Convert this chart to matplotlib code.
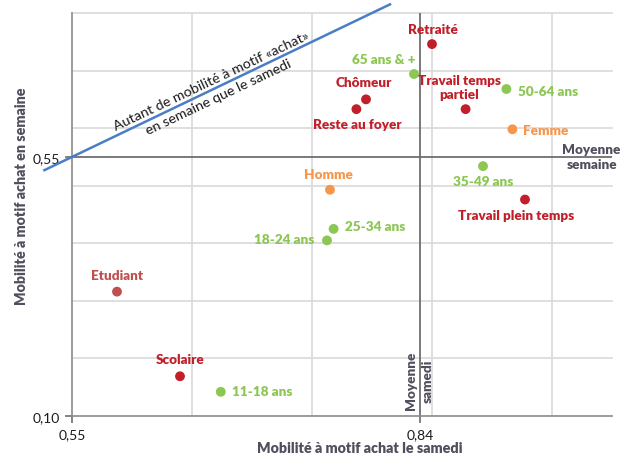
import matplotlib
matplotlib.use("Agg")
import matplotlib.pyplot as plt

plt.rcParams['font.family'] = ['Lato', 'DejaVu Sans']

# Data
labels = ["Retraité", "65 ans & +", "Chômeur", "Reste au foyer", "Travail temps\npartiel",
          "50-64 ans", "Femme", "35-49 ans", "Travail plein temps", "Homme",
          "25-34 ans", "18-24 ans", "Etudiant", "Scolaire", "11-18 ans"]
samedi = [0.850, 0.835, 0.795, 0.787, 0.878, 0.912, 0.917, 0.8925, 0.9275, 0.765,
          0.768, 0.7625, 0.5875, 0.640, 0.674]
semaine = [0.746, 0.694, 0.650, 0.633, 0.633, 0.668, 0.598, 0.534, 0.476, 0.493,
           0.425, 0.405, 0.316, 0.169, 0.142]
groups = ["csp", "age", "csp", "csp", "csp", "age", "sexe", "age", "csp", "sexe",
          "age", "age", "etu", "csp", "age"]
moy_samedi = 0.84
moy_semaine = 0.55
x_ticks = [0.55, 0.84]
y_ticks = [0.10, 0.55]
x_tick_labels = ["0,55", "0,84"]
y_tick_labels = ["0,10", "0,55"]

colors = {"csp": "#C1202B", "age": "#8CC653", "sexe": "#F7964B", "etu": "#C0504F"}
# label offsets (pixels) and alignment
offsets = [(1, 15, 'center'), (1, 15, 'right'), (-2, 17, 'center'), (1, -15, 'center'),
           (-6, 22, 'center'), (12, -2, 'left'), (11, -1, 'left'), (0, -15, 'center'),
           (-9, -15, 'center'), (-2, 16, 'center'), (11, 3, 'left'), (-13, 1, 'right'),
           (0, 17, 'center'), (0, 17, 'center'), (11, 1, 'left')]

fig = plt.figure(figsize=(6.2, 4.56), dpi=100)
ax = fig.add_axes([72/620, 39/456, 540/620, 403/456])
ax.set_xlim(0.55, 1.0)
ax.set_ylim(0.10, 0.80)

grid_c = "#D9D9D9"
for gx in [0.65, 0.75, 0.85, 0.95]:
    ax.axvline(gx, color=grid_c, lw=1.2, zorder=1)
for gy in [0.20, 0.30, 0.40, 0.50, 0.60, 0.70, 0.80]:
    ax.axhline(gy, color=grid_c, lw=1.2, zorder=1, clip_on=False)

ax.axhline(moy_semaine, color="#6E6E6E", lw=1.3, zorder=2)
ax.axvline(moy_samedi, color="#6E6E6E", lw=1.3, zorder=2)

for s in ['top', 'right']:
    ax.spines[s].set_visible(False)
for s in ['left', 'bottom']:
    ax.spines[s].set_color("#8A8A8A")
    ax.spines[s].set_linewidth(1.2)

ax.set_xticks(x_ticks)
ax.set_xticklabels(x_tick_labels)
ax.set_yticks(y_ticks)
ax.set_yticklabels(y_tick_labels)
ax.tick_params(axis='both', colors="#6E6E6E", labelcolor="#1A1A1A", labelsize=10,
               length=5, width=1.2, direction='out')

# diagonal y = x
diag = [0.527, 0.815]
ax.plot(diag, diag, color="#4A7EC4", lw=1.8, clip_on=False, zorder=3)
ax.text(0.669, 0.669, "Autant de mobilité à motif «achat»\nen semaine que le samedi",
        rotation=25.4, rotation_mode='anchor', ha='center', va='center',
        fontsize=10.3, color="#1A1A1A", linespacing=1.5, zorder=4)

ax.scatter(samedi, semaine, s=50, c=[colors[g] for g in groups], zorder=5,
           linewidths=0)

lab_font = dict(fontsize=9.7, fontweight='heavy')
for lab, x, y, g, (dx, dy, ha) in zip(labels, samedi, semaine, groups, offsets):
    ax.annotate(lab, (x, y), xytext=(dx, dy), textcoords='offset pixels',
                ha=ha, va='center', color=colors[g],
                linespacing=1.25, zorder=6, **lab_font)

ax.text(0.983, moy_semaine, "Moyenne\nsemaine", ha='center', va='center',
        color="#4F4F5E", linespacing=1.3, clip_on=False, zorder=6, **lab_font)
ax.text(0.8395, 0.162, "Moyenne\nsamedi", rotation=90, ha='center', va='center',
        color="#4F4F5E", linespacing=1.45, zorder=6, **lab_font)

fig.text(360/620, 1 - 449/456, "Mobilité à motif achat le samedi", ha='center',
         va='center', fontsize=10.3, fontweight='heavy', color="#4F4F5E")
fig.text(22/620, 1 - 196/456, "Mobilité à motif achat en semaine", ha='center',
         va='center', rotation=90, fontsize=10.3, fontweight='heavy', color="#4F4F5E")

fig.savefig("out.png", dpi=100)
